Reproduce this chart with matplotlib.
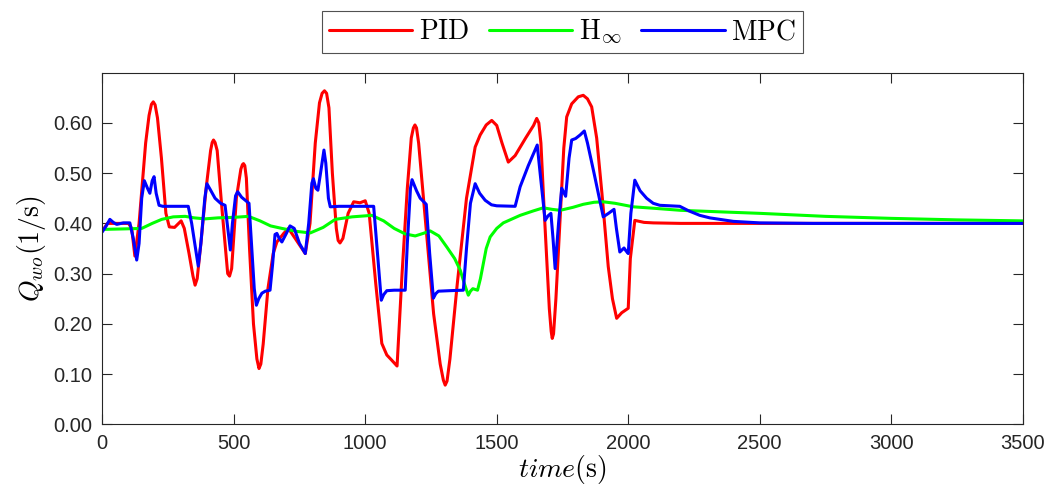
import numpy as np
import matplotlib
matplotlib.use("Agg")
import matplotlib.pyplot as plt

plt.rcParams['mathtext.fontset'] = 'cm'
plt.rcParams['font.family'] = ['Liberation Sans', 'DejaVu Sans']

# ---- data ----
t_pid = [0, 20, 100, 112, 124, 140, 165, 178, 187, 194, 201, 210, 225, 242, 255, 275, 300, 312, 330,
         345, 353, 361, 375, 395, 412, 418, 423, 429, 437, 455, 477, 484, 492, 510, 527, 533, 537,
         542, 548, 560, 575, 588, 596, 603, 612, 630, 650, 664, 690, 708, 740, 772, 790, 810, 826,
         836, 845, 853, 862, 875, 890, 897, 904, 915, 935, 956, 980, 1000, 1015, 1040, 1063, 1082,
         1100, 1121, 1140, 1160, 1175, 1183, 1189, 1195, 1203, 1230, 1260, 1285, 1297, 1304, 1311,
         1322, 1350, 1385, 1418, 1437, 1460, 1481, 1500, 1520, 1544, 1570, 1610, 1640, 1652, 1660,
         1668, 1680, 1700, 1707, 1711, 1716, 1725, 1740, 1755, 1766, 1785, 1810, 1829, 1845, 1861,
         1880, 1900, 1924, 1940, 1956, 1975, 2000, 2008, 2025, 2060, 2095, 2200, 3500]
q_pid = [0.385, 0.40, 0.40, 0.39, 0.335, 0.40, 0.56, 0.615, 0.637, 0.642, 0.636, 0.61, 0.53, 0.42,
         0.393, 0.392, 0.405, 0.39, 0.34, 0.295, 0.277, 0.29, 0.36, 0.47, 0.545, 0.561, 0.566,
         0.561, 0.545, 0.43, 0.30, 0.295, 0.31, 0.45, 0.508, 0.517, 0.519, 0.515, 0.49, 0.35, 0.20,
         0.13, 0.111, 0.12, 0.16, 0.27, 0.34, 0.363, 0.38, 0.39, 0.365, 0.34, 0.40, 0.56, 0.64,
         0.659, 0.664, 0.659, 0.63, 0.50, 0.39, 0.366, 0.361, 0.37, 0.42, 0.443, 0.441, 0.445,
         0.42, 0.28, 0.161, 0.138, 0.128, 0.116, 0.30, 0.47, 0.57, 0.59, 0.596, 0.59, 0.56, 0.40,
         0.22, 0.12, 0.088, 0.078, 0.086, 0.13, 0.28, 0.45, 0.552, 0.576, 0.596, 0.605, 0.595,
         0.56, 0.522, 0.535, 0.57, 0.595, 0.609, 0.60, 0.56, 0.43, 0.23, 0.185, 0.171, 0.18, 0.25,
         0.40, 0.55, 0.612, 0.638, 0.652, 0.655, 0.648, 0.632, 0.57, 0.46, 0.314, 0.25, 0.211,
         0.222, 0.231, 0.33, 0.406, 0.402, 0.401, 0.400, 0.400]

t_hinf = [0, 80, 150, 190, 226, 270, 315, 350, 391, 440, 500, 556, 600, 640, 683, 740, 791, 840,
          886, 950, 1025, 1070, 1110, 1152, 1190, 1220, 1247, 1280, 1310, 1340, 1361, 1380, 1392,
          1400, 1409, 1427, 1438, 1449, 1460, 1475, 1500, 1525, 1589, 1640, 1677, 1710, 1741, 1790,
          1829, 1870, 1905, 1950, 2019, 2100, 2200, 2348, 2500, 2750, 3000, 3250, 3500]
q_hinf = [0.388, 0.389, 0.39, 0.400, 0.408, 0.413, 0.414, 0.411, 0.409, 0.411, 0.412, 0.414, 0.405,
          0.395, 0.39, 0.384, 0.381, 0.392, 0.408, 0.413, 0.416, 0.405, 0.39, 0.379, 0.375, 0.38,
          0.385, 0.375, 0.353, 0.33, 0.307, 0.275, 0.257, 0.265, 0.27, 0.267, 0.29, 0.32, 0.35,
          0.373, 0.39, 0.401, 0.416, 0.425, 0.431, 0.428, 0.426, 0.432, 0.438, 0.442, 0.443, 0.44,
          0.433, 0.430, 0.426, 0.423, 0.42, 0.414, 0.41, 0.407, 0.405]

t_mpc = [0, 15, 29, 42, 55, 80, 105, 118, 131, 140, 150, 160, 172, 181, 190, 197, 205, 216, 230,
         327, 340, 365, 375, 390, 398, 410, 429, 450, 467, 475, 487, 495, 507, 515, 530, 558, 565,
         578, 586, 595, 607, 620, 638, 648, 657, 664, 673, 683, 700, 714, 730, 750, 772, 785, 797,
         803, 812, 820, 830, 843, 850, 860, 867, 900, 1032, 1045, 1061, 1070, 1082, 1110, 1152,
         1160, 1172, 1178, 1195, 1209, 1232, 1245, 1259, 1268, 1278, 1320, 1373, 1385, 1400, 1418,
         1435, 1456, 1480, 1500, 1570, 1580, 1589, 1620, 1654, 1665, 1684, 1695, 1706, 1714, 1722,
         1735, 1747, 1762, 1775, 1785, 1800, 1817, 1833, 1845, 1870, 1890, 1905, 1925, 1946, 1955,
         1968, 1984, 1992, 2000, 2010, 2025, 2045, 2070, 2095, 2120, 2196, 2230, 2272, 2310, 2348,
         2400, 2500, 2700, 3500]
q_mpc = [0.383, 0.395, 0.408, 0.402, 0.398, 0.401, 0.401, 0.37, 0.327, 0.36, 0.45, 0.485, 0.47,
         0.46, 0.485, 0.493, 0.46, 0.436, 0.434, 0.434, 0.40, 0.315, 0.36, 0.45, 0.479, 0.468, 0.45,
         0.44, 0.436, 0.40, 0.347, 0.40, 0.455, 0.463, 0.452, 0.44, 0.38, 0.27, 0.237, 0.25, 0.261,
         0.265, 0.267, 0.32, 0.378, 0.38, 0.37, 0.363, 0.38, 0.395, 0.39, 0.36, 0.34, 0.40, 0.48,
         0.489, 0.47, 0.466, 0.50, 0.546, 0.52, 0.45, 0.433, 0.434, 0.434, 0.35, 0.247, 0.258,
         0.266, 0.267, 0.267, 0.36, 0.47, 0.487, 0.465, 0.45, 0.438, 0.34, 0.251, 0.26, 0.265,
         0.266, 0.267, 0.35, 0.44, 0.479, 0.46, 0.446, 0.437, 0.435, 0.434, 0.455, 0.473, 0.515,
         0.556, 0.50, 0.406, 0.415, 0.42, 0.37, 0.31, 0.40, 0.47, 0.454, 0.53, 0.566, 0.569, 0.576,
         0.584, 0.56, 0.50, 0.45, 0.413, 0.42, 0.428, 0.39, 0.343, 0.351, 0.345, 0.34, 0.42, 0.486,
         0.465, 0.45, 0.44, 0.436, 0.434, 0.425, 0.416, 0.411, 0.408, 0.404, 0.401, 0.400, 0.400]

x_ticks = [0, 500, 1000, 1500, 2000, 2500, 3000, 3500]
y_ticks = [0.0, 0.1, 0.2, 0.3, 0.4, 0.5, 0.6]

# ---- figure ----
fig = plt.figure(figsize=(10.64, 4.97), dpi=100)
ax = fig.add_axes([0.0961, 0.1463, 0.8651, 0.7074])

lw = 2.2
style = dict(lw=lw, solid_joinstyle='round', solid_capstyle='round')
ax.plot(t_pid, q_pid, color='#ff0000', label=r'$\mathrm{PID}$', **style)
ax.plot(t_hinf, q_hinf, color='#00ff00', label=r'$\mathrm{H}_{\infty}$', **style)
ax.plot(t_mpc, q_mpc, color='#0000ff', label=r'$\mathrm{MPC}$', **style)

ax.set_xlim(0, 3500)
ax.set_ylim(0, 0.7)
ax.set_xticks(x_ticks)
ax.set_yticks(y_ticks)
ax.set_yticklabels([f'{v:.2f}' for v in y_ticks])

axcol = '#262626'
for s in ax.spines.values():
    s.set_color(axcol)
    s.set_linewidth(0.8)
ax.tick_params(direction='in', length=7, width=0.8, colors=axcol, labelsize=14.5,
               top=True, right=True, pad=7)

ax.set_xlabel(r'$time(\mathrm{s})$', fontsize=20, labelpad=0)
ax.set_ylabel(r'$Q_{wo}(\mathrm{1/s})$', fontsize=20, labelpad=4)

leg = ax.legend(loc='lower center', bbox_to_anchor=(0.5, 1.056), ncol=3, fontsize=20,
                frameon=True, fancybox=False, edgecolor=axcol, borderaxespad=0,
                handlelength=3.0, handletextpad=0.25, columnspacing=0.7, borderpad=0.25)
leg.get_frame().set_linewidth(0.8)

fig.savefig('out.png', dpi=100)
